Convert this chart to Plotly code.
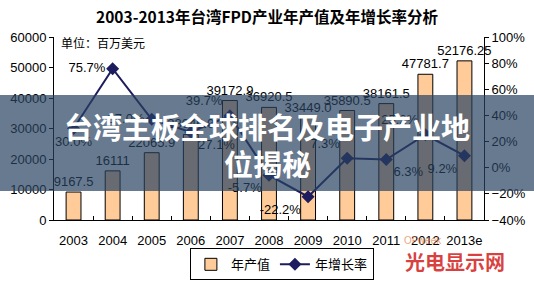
import plotly.graph_objects as go

years = ["2003", "2004", "2005", "2006", "2007", "2008", "2009", "2010", "2011", "2012", "2013e"]
output_value = [9167.5, 16111, 22065.9, 28046.0, 39172.9, 36920.5, 33449.0, 35890.5, 38161.5, 47781.7, 52176.25]
output_labels = ["9167.5", "16111", "22065.9", "28046.0", "39172.9", "36920.5", "33449.0", "35890.5", "38161.5", "47781.7", "52176.25"]
growth_rate = [30.0, 75.7, 37.0, 27.1, 39.7, -5.7, -22.2, 7.3, 6.3, 25.2, 9.2]
growth_pos = ["bottom center", "middle left", "middle left", "bottom right", "top left", "bottom left",
              "bottom left", "top left", "bottom right", "top left", "bottom left"]

FONT = "Liberation Sans, Arial, Noto Sans CJK SC, sans-serif"
CJK = "Noto Sans CJK SC, sans-serif"
NAVY = "#1c1c5e"

fig = go.Figure()
fig.add_trace(go.Bar(
    x=years, y=output_value, name="年产值", width=0.38,
    marker=dict(color="#ffcc99", line=dict(color="#000000", width=1)),
    text=output_labels, textposition="outside", cliponaxis=False, constraintext="none",
    textfont=dict(family=FONT, size=13, color="#000000"),
))
fig.add_trace(go.Scatter(
    x=years, y=growth_rate, name="年增长率", yaxis="y2", mode="lines+markers+text",
    line=dict(color=NAVY, width=2),
    marker=dict(symbol="diamond", size=10, color=NAVY),
    text=[f"{v:.1f}%" for v in growth_rate], textposition=growth_pos,
    textfont=dict(family=FONT, size=13, color="#000000"), cliponaxis=False,
))

fig.update_layout(
    width=534, height=286,
    margin=dict(l=54, r=50, t=37, b=66, autoexpand=False),
    paper_bgcolor="#ffffff", plot_bgcolor="#ffffff",
    font=dict(family=FONT, size=13, color="#000000"),
    title=dict(text="<b>2003-2013年台湾FPD产业年产值及年增长率分析</b>",
               x=0.5, xanchor="center", y=0.94, yanchor="middle",
               font=dict(family=CJK, size=15.5, color="#000000")),
    showlegend=True,
    legend=dict(orientation="h", x=0.53, xanchor="center", y=-0.155, yanchor="top",
                bordercolor="#000000", borderwidth=1, bgcolor="#ffffff",
                font=dict(family=CJK, size=13), itemwidth=30, tracegroupgap=0),
    xaxis=dict(type="category", range=[-0.5, 10.5], showline=True, linecolor="#000000", linewidth=1,
               ticks="inside", tickson="boundaries", ticklen=4, tickcolor="#000000", tickangle=0,
               ticklabelstandoff=8,
               showgrid=False, tickfont=dict(family=FONT, size=13)),
    yaxis=dict(range=[0, 60000], dtick=10000, showline=True, linecolor="#000000", linewidth=1,
               ticks="outside", ticklen=4, tickcolor="#000000", showgrid=False, zeroline=False,
               tickformat="d", tickfont=dict(family=FONT, size=13)),
    yaxis2=dict(range=[-40, 100], dtick=20, overlaying="y", side="right", showline=True,
                linecolor="#000000", linewidth=1, ticks="outside", ticklen=4, tickcolor="#000000",
                showgrid=False, zeroline=False, ticksuffix="%", tickfont=dict(family=FONT, size=13)),
    bargap=0.6,
)

# unit label
fig.add_annotation(text="单位：百万美元", xref="paper", yref="paper", x=0.012, y=0.97,
                   xanchor="left", yanchor="middle", showarrow=False,
                   font=dict(family=CJK, size=12, color="#000000"))

# watermark
fig.add_annotation(text="OFweek", xref="paper", yref="paper", x=(402 - 54) / 430, y=(220 - 241) / 183,
                   xanchor="left", yanchor="middle", showarrow=False,
                   font=dict(family=FONT, size=10, color="rgba(230,120,60,0.7)"))
fig.add_annotation(text="<b>光电显示网</b>", xref="paper", yref="paper", x=(455 - 54) / 430, y=(220 - 261) / 183,
                   xanchor="center", yanchor="middle", showarrow=False,
                   font=dict(family=CJK, size=20, color="rgba(210,30,30,0.85)"))

# banner overlay
fig.add_shape(type="rect", xref="paper", yref="paper",
              x0=-54 / 430, x1=(534 - 54) / 430, y0=(220 - 191) / 183, y1=(220 - 95) / 183,
              fillcolor="rgba(40,65,95,0.7)", line=dict(width=0), layer="above")
fig.add_annotation(text="<b>台湾主板全球排名及电子产业地</b>", xref="paper", yref="paper",
                   x=(267 - 54) / 430, y=(220 - 126) / 183, xanchor="center", yanchor="middle",
                   showarrow=False, font=dict(family=CJK, size=29, color="#ffffff"))
fig.add_annotation(text="<b>位揭秘</b>", xref="paper", yref="paper",
                   x=(267 - 54) / 430, y=(220 - 163) / 183, xanchor="center", yanchor="middle",
                   showarrow=False, font=dict(family=CJK, size=29, color="#ffffff"))

fig.write_html("out.html")
